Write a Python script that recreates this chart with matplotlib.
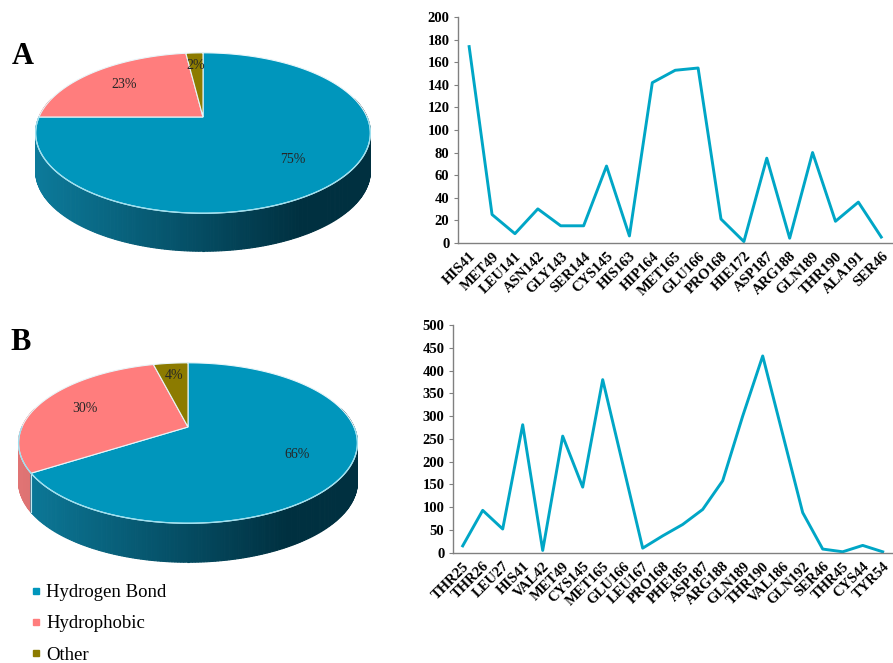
import numpy as np
import matplotlib
matplotlib.use('Agg')
import matplotlib.pyplot as plt
from matplotlib.patches import Polygon
from matplotlib.lines import Line2D

plt.rcParams['font.family'] = ['Liberation Serif', 'DejaVu Serif']

# pie data
pie_labels = ['Hydrogen Bond', 'Hydrophobic', 'Other']
pie_a = [75, 23, 2]
pie_b = [66, 30, 4]

# line data
res_a = ['HIS41', 'MET49', 'LEU141', 'ASN142', 'GLY143', 'SER144', 'CYS145', 'HIS163',
         'HIP164', 'MET165', 'GLU166', 'PRO168', 'HIE172', 'ASP187', 'ARG188', 'GLN189',
         'THR190', 'ALA191', 'SER46']
val_a = [174, 25, 8, 30, 15, 15, 68, 6, 142, 153, 155, 21, 1, 75, 4, 80, 19, 36, 5]

res_b = ['THR25', 'THR26', 'LEU27', 'HIS41', 'VAL42', 'MET49', 'CYS145', 'MET165',
         'GLU166', 'LEU167', 'PRO168', 'PHE185', 'ASP187', 'ARG188', 'GLN189', 'THR190',
         'VAL186', 'GLN192', 'SER46', 'THR45', 'CYS44', 'TYR54']
val_b = [15, 93, 52, 281, 5, 256, 144, 380, 195, 10, 37, 62, 95, 158, 300, 432,
         260, 88, 8, 2, 16, 2]

top_cols = ['#0096BC', '#FF7D7D', '#8C7B00']
side_light = [np.array([0x0C, 0x7A, 0x9A]) / 255, np.array([0xE0, 0x74, 0x74]) / 255,
              np.array([0x70, 0x62, 0x00]) / 255]
side_dark = [np.array([0x00, 0x30, 0x40]) / 255, np.array([0x90, 0x40, 0x40]) / 255,
             np.array([0x40, 0x38, 0x00]) / 255]
line_col = '#00A6C6'

W, H = 893, 663
fig = plt.figure(figsize=(W / 100, H / 100), dpi=100)
bg = fig.add_axes([0, 0, 1, 1])
bg.set_xlim(0, W)
bg.set_ylim(H, 0)
bg.axis('off')

K = 0.2  # perspective


def proj(cx, cy, R, r, rho, th):
    u = rho * np.cos(th)
    v = rho * np.sin(th)
    d = 1 + K * v
    return cx + R * u / d, cy - r * v / d


def pie3d(ax, vals, cx, cy, R, r, depth):
    tot = float(sum(vals))
    bounds = [np.pi / 2]
    for v in vals:
        bounds.append(bounds[-1] - 2 * np.pi * v / tot)
    # side wall (front half)
    ths = np.linspace(np.pi - 0.25, 2 * np.pi + 0.25, 260)
    for i in range(len(ths) - 1):
        t0, t1 = ths[i], ths[i + 1]
        tm = 0.5 * (t0 + t1)
        k = 0
        for j in range(len(vals)):
            lo, hi = bounds[j + 1], bounds[j]
            for off in (0, 2 * np.pi, -2 * np.pi, 4 * np.pi):
                if lo <= tm - off <= hi:
                    k = j
        x0, y0 = proj(cx, cy, R, r, 1, t0)
        x1, y1 = proj(cx, cy, R, r, 1, t1)
        f = np.clip((0.5 * (x0 + x1) - (cx - R)) / (1.6 * R), 0, 1)
        c = side_light[k] * (1 - f) + side_dark[k] * f
        ax.add_patch(Polygon([(x0, y0), (x1, y1), (x1, y1 + depth), (x0, y0 + depth)],
                             closed=True, facecolor=c, edgecolor=c, lw=0.8))
    # slice boundary on the side
    for b in bounds[1:-1]:
        bb = b % (2 * np.pi)
        if np.pi + 0.1 <= bb <= 2 * np.pi - 0.1:
            x, y = proj(cx, cy, R, r, 1, bb)
            ax.plot([x, x], [y, y + depth], color='#BFEAF2', lw=0.8)
    # top face
    for j in range(len(vals)):
        th = np.linspace(bounds[j], bounds[j + 1], 200)
        xs, ys = proj(cx, cy, R, r, 1, th)
        pts = [(cx, cy)] + list(zip(xs, ys))
        ax.add_patch(Polygon(pts, closed=True, facecolor=top_cols[j],
                             edgecolor='#E8F6FA', lw=0.8))
    # front rim highlight
    th = np.linspace(np.pi, 2 * np.pi, 200)
    xs, ys = proj(cx, cy, R, r, 1, th)
    ax.plot(xs, ys, color='#9BE0F0', lw=0.9)
    # labels
    for j in range(len(vals)):
        tm = 0.5 * (bounds[j] + bounds[j + 1])
        rho = 0.7 if vals[j] > 5 else 0.78
        x, y = proj(cx, cy, R, r, rho, tm)
        ax.text(x, y, '%d%%' % vals[j], ha='center', va='center', fontsize=10,
                color='#262626')


pie3d(bg, pie_a, 203, 117, 164, 77, 38)
pie3d(bg, pie_b, 188, 427, 166, 77, 39)

bg.text(12, 57, 'A', fontsize=22, fontweight='bold', va='center', ha='left')
bg.text(10, 343, 'B', fontsize=22, fontweight='bold', va='center', ha='left')

handles = [Line2D([], [], ls='none', marker='s', markersize=5, color=c) for c in top_cols]
fig.legend(handles, pie_labels, loc='upper left', bbox_to_anchor=(31 / W, 1 - 584 / H),
           frameon=False, fontsize=13.5, handlelength=0.5, handletextpad=0.3,
           labelspacing=0.75, borderaxespad=0, borderpad=0,
           prop={'family': 'Liberation Serif', 'size': 13.5})


def line_panel(rect, names, vals, ymax, step):
    ax = fig.add_axes(rect)
    ax.patch.set_alpha(0)
    x = np.arange(len(names))
    ax.plot(x, vals, color=line_col, lw=2.1)
    ax.set_xlim(-0.5, len(names) - 0.5)
    ax.set_ylim(0, ymax)
    ax.set_yticks(np.arange(0, ymax + 1, step))
    ax.set_xticks(x)
    ax.set_xticklabels(names, rotation=45, ha='right', rotation_mode='anchor')
    for s in ['top', 'right']:
        ax.spines[s].set_visible(False)
    for s in ['left', 'bottom']:
        ax.spines[s].set_color('#808080')
        ax.spines[s].set_linewidth(1.0)
    ax.tick_params(axis='y', length=3, color='#808080', labelsize=10.5, pad=3)
    ax.tick_params(axis='x', length=0, labelsize=10.5, pad=5)
    for t in ax.get_xticklabels() + ax.get_yticklabels():
        t.set_fontweight('bold')
    return ax


line_panel([457.7 / W, 1 - 242.7 / H, 435 / W, 225.4 / H], res_a, val_a, 200, 20)
line_panel([452.7 / W, 1 - 552.7 / H, 440 / W, 227.7 / H], res_b, val_b, 500, 50)

fig.savefig('out.png', dpi=100)
